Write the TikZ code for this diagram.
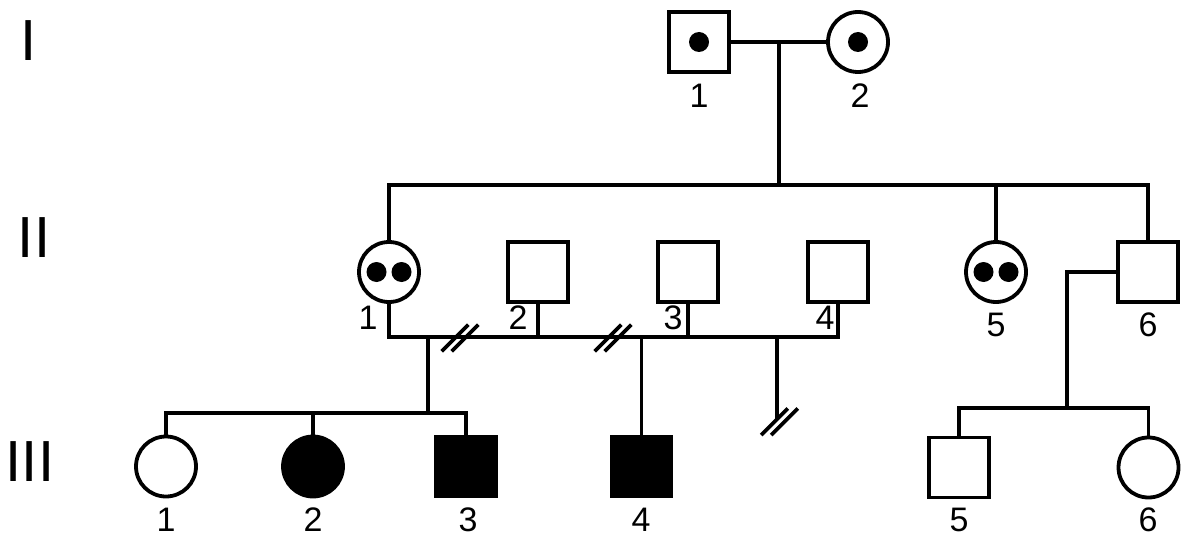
\documentclass[tikz,border=0pt]{standalone}
\usepackage{fontspec}
\setmainfont{Liberation Sans}
\begin{document}
\begin{tikzpicture}[x=0.5pt,y=-0.5pt,
  line width=1.9pt,
  male/.style={draw, rectangle, minimum size=30pt, inner sep=0pt, fill=white},
  female/.style={draw, circle, minimum size=30pt, inner sep=0pt, fill=white},
  affected/.style={fill=black},
  carrierdot/.style={circle, fill=black, draw=none, minimum size=10pt, inner sep=0pt},
  idlabel/.style={font=\fontsize{17}{18}\selectfont, inner sep=0pt},
  genlabel/.style={font=\fontsize{29}{30}\selectfont, inner sep=0pt},
  divorce/.pic={
    \draw (-18.3,13.3) -- (8.3,-13.3);
    \draw (-8.3,13.3) -- (18.3,-13.3);
  }]
\useasboundingbox (0,0) rectangle (1188,540);

% generation numerals
\node[genlabel] (gI)   at (29,41)  {I};
\node[genlabel] (gII)  at (34,238) {II};
\node[genlabel] (gIII) at (30,462) {III};

% generation I
\node[male]   (I1) at (699,42) {};
\node[female] (I2) at (858,42) {};
\node[carrierdot] (I1d) at (I1.center) {};
\node[carrierdot] (I2d) at (I2.center) {};
\node[idlabel] (lI1) at (699,96) {1};
\node[idlabel] (lI2) at (860,96) {2};

% generation II
\node[female] (II1) at (389,272) {};
\node[male]   (II2) at (538,272) {};
\node[male]   (II3) at (688,272) {};
\node[male]   (II4) at (838,272) {};
\node[female] (II5) at (996,272) {};
\node[male]   (II6) at (1148,272) {};
\node[carrierdot] (II1a) at ([xshift=-6.25pt]II1.center) {};
\node[carrierdot] (II1b) at ([xshift=6.25pt]II1.center) {};
\node[carrierdot] (II5a) at ([xshift=-6.25pt]II5.center) {};
\node[carrierdot] (II5b) at ([xshift=6.25pt]II5.center) {};
\node[idlabel] (lII1) at (368,318) {1};
\node[idlabel] (lII2) at (518,318) {2};
\node[idlabel] (lII3) at (673,318) {3};
\node[idlabel] (lII4) at (825,318) {4};
\node[idlabel] (lII5) at (996,325) {5};
\node[idlabel] (lII6) at (1148,325) {6};

% generation III
\node[female]          (III1) at (166,466.5) {};
\node[female,affected] (III2) at (313,466.5) {};
\node[male,affected]   (III3) at (466,466.5) {};
\node[male,affected]   (III4) at (641.5,466.5) {};
\node[male]            (III5) at (959,467.5) {};
\node[female]          (III6) at (1148.5,467.5) {};
\node[idlabel] (lIII1) at (166,520) {1};
\node[idlabel] (lIII2) at (313,520) {2};
\node[idlabel] (lIII3) at (468,520) {3};
\node[idlabel] (lIII4) at (641,520) {4};
\node[idlabel] (lIII5) at (959,520) {5};
\node[idlabel] (lIII6) at (1148,520) {6};

% junction points
\coordinate (m1)  at (779,42);
\coordinate (s1)  at (779,185);
\coordinate (u2)  at (600,337);
\coordinate (c1)  at (428,337);
\coordinate (c1b) at (428,413);
\coordinate (c3)  at (777,337);
\coordinate (c3e) at (777,420);
\coordinate (c4)  at (1067,408);

% mating of I-1 and I-2 with their sibship
\draw (I1) -- (I2);
\draw (m1) -- (s1);
\draw (II1.north) -- (II1.north |- s1) -- (II6.north |- s1) -- (II6.north);
\draw (II5.north) -- (II5.north |- s1);

% unions of II-1 with II-2, II-3 and II-4
\draw (II1.south) -- (II1.south |- u2) -- (II4.south |- u2) -- (II4.south);
\draw (II2.south) -- (II2.south |- u2);
\draw (II3.south) -- (II3.south |- u2);
\pic at (460,338) {divorce};
\pic at (613,338) {divorce};

% offspring
\draw (c1) -- (c1b);
\draw (III1.north) |- (c1b) -| (III3.north);
\draw (III2.north) -- (III2.north |- c1b);
\draw (III4.north) -- (III4.north |- u2);
\draw (c3) -- (c3e);
\pic at (779.5,421.7) {divorce};

% offspring of II-6
\draw (II6.west) -| (c4);
\draw (III5.north) |- (c4) -| (III6.north);

\end{tikzpicture}
\end{document}
